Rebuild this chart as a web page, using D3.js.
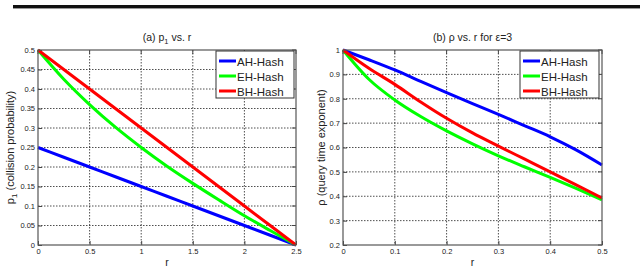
<!DOCTYPE html>
<html>
<head>
<meta charset="utf-8">
<script src="https://cdn.jsdelivr.net/npm/d3@7"></script>
<style>
  body { margin: 0; background: #fff; }
  svg { font-family: "Liberation Sans", Arial, sans-serif; }
</style>
</head>
<body>
<svg id="graph" width="640" height="268"></svg>
<script>
// ---- data ----
const seriesNames = ["AH-Hash", "EH-Hash", "BH-Hash"];
const seriesColors = ["#0000ff", "#00ff00", "#ff0000"];

// (a) p1 vs r
const rA = [0, 0.25, 0.5, 0.75, 1, 1.25, 1.5, 1.75, 2, 2.25, 2.5];
const p1AH = [0.25, 0.225, 0.2, 0.175, 0.15, 0.125, 0.1, 0.075, 0.05, 0.025, 0];
const p1EH = [0.5, 0.425, 0.36, 0.302, 0.25, 0.202, 0.158, 0.116, 0.075, 0.037, 0];
const p1BH = [0.5, 0.45, 0.4, 0.35, 0.3, 0.25, 0.2, 0.15, 0.1, 0.05, 0];
const xTicksA = [0, 0.5, 1, 1.5, 2, 2.5];
const yTicksA = [0, 0.05, 0.1, 0.15, 0.2, 0.25, 0.3, 0.35, 0.4, 0.45, 0.5];

// (b) rho vs r for eps=3
const rB = [0, 0.05, 0.1, 0.15, 0.2, 0.25, 0.3, 0.35, 0.4, 0.45, 0.5];
const rhoAH = [1, 0.96, 0.918, 0.871, 0.825, 0.78, 0.736, 0.69, 0.644, 0.59, 0.528];
const rhoEH = [1, 0.88, 0.795, 0.727, 0.668, 0.615, 0.566, 0.521, 0.477, 0.432, 0.385];
const rhoBH = [1, 0.925, 0.859, 0.787, 0.72, 0.66, 0.606, 0.553, 0.5, 0.447, 0.393];
const xTicksB = [0, 0.1, 0.2, 0.3, 0.4, 0.5];
const yTicksB = [0.2, 0.3, 0.4, 0.5, 0.6, 0.7, 0.8, 0.9, 1];

const svg = d3.select("#graph");

// top rule of the page the figure was cut from
svg.append("rect").attr("x", 13).attr("y", 5).attr("width", 627).attr("height", 3).attr("fill", "#111");
svg.append("rect").attr("x", 13).attr("y", 8).attr("width", 627).attr("height", 1).attr("fill", "#999");

/**
 * Draw one MATLAB style panel
 */
const drawPanel = (opt) => {
  const x = d3.scaleLinear().domain(opt.xDomain).range([opt.left, opt.right]);
  const y = d3.scaleLinear().domain(opt.yDomain).range([opt.bottom, opt.top]);
  const g = svg.append("g");

  // grid
  g.selectAll(".gx").data(opt.xTicks.slice(1, -1)).join("line")
    .attr("x1", d => x(d)).attr("x2", d => x(d))
    .attr("y1", opt.top).attr("y2", opt.bottom)
    .attr("stroke", "#222").attr("stroke-width", 0.8).attr("stroke-dasharray", "1.5,1.5");
  g.selectAll(".gy").data(opt.yTicks.slice(1, -1)).join("line")
    .attr("y1", d => y(d)).attr("y2", d => y(d))
    .attr("x1", opt.left).attr("x2", opt.right)
    .attr("stroke", "#222").attr("stroke-width", 0.8).attr("stroke-dasharray", "1.5,1.5");

  // axes with inward ticks
  const ax = g.append("g").attr("transform", `translate(0,${opt.bottom})`)
    .call(d3.axisBottom(x).tickValues(opt.xTicks).tickSize(-4).tickPadding(4).tickFormat(d3.format("")));
  const ay = g.append("g").attr("transform", `translate(${opt.left},0)`)
    .call(d3.axisLeft(y).tickValues(opt.yTicks).tickSize(-4).tickPadding(3).tickFormat(d3.format("")));
  [ax, ay].forEach(a => {
    a.select(".domain").remove();
    a.selectAll("line").attr("stroke", "#444");
    a.selectAll("text").attr("font-size", 7.5).attr("fill", "#222");
  });
  // top/right ticks
  g.selectAll(".tt").data(opt.xTicks).join("line")
    .attr("x1", d => x(d)).attr("x2", d => x(d)).attr("y1", opt.top).attr("y2", opt.top + 4)
    .attr("stroke", "#444");
  g.selectAll(".tr").data(opt.yTicks).join("line")
    .attr("y1", d => y(d)).attr("y2", d => y(d)).attr("x1", opt.right).attr("x2", opt.right - 4)
    .attr("stroke", "#444");

  // lines
  const line = d3.line().x(d => x(d[0])).y(d => y(d[1])).curve(d3.curveMonotoneX);
  opt.series.forEach((s, i) => {
    g.append("path")
      .datum(opt.xs.map((v, j) => [v, s[j]]))
      .attr("fill", "none")
      .attr("stroke", seriesColors[i])
      .attr("stroke-width", 3)
      .attr("d", line);
  });

  // box
  g.append("rect")
    .attr("x", opt.left).attr("y", opt.top)
    .attr("width", opt.right - opt.left).attr("height", opt.bottom - opt.top)
    .attr("fill", "none").attr("stroke", "#555").attr("stroke-width", 1.2);

  // legend
  const lg = g.append("g").attr("transform", `translate(${opt.legX},${opt.legY})`);
  lg.append("rect").attr("width", opt.legW).attr("height", 47)
    .attr("fill", "#fff").attr("stroke", "#333").attr("stroke-width", 1);
  seriesNames.forEach((n, i) => {
    const yy = 10 + i * 15;
    lg.append("line").attr("x1", 3).attr("x2", 20).attr("y1", yy).attr("y2", yy)
      .attr("stroke", seriesColors[i]).attr("stroke-width", 3);
    lg.append("text").attr("x", 21).attr("y", yy + 4.5)
      .attr("font-size", 11.5).attr("fill", "#222").text(n);
  });

  // titles
  const cx = (opt.left + opt.right) / 2;
  g.append("text").attr("x", cx).attr("y", 41).attr("text-anchor", "middle")
    .attr("font-size", 10.5).attr("fill", "#222").html(opt.title);
  g.append("text").attr("x", cx).attr("y", 266).attr("text-anchor", "middle")
    .attr("font-size", 10.5).attr("fill", "#222").text("r");
  g.append("text")
    .attr("transform", `translate(${opt.yLabX},${(opt.top + opt.bottom) / 2}) rotate(-90)`)
    .attr("text-anchor", "middle").attr("font-size", 11).attr("fill", "#222").html(opt.yLabel);
};

drawPanel({
  left: 38, right: 296, top: 50, bottom: 245,
  xDomain: [0, 2.5], yDomain: [0, 0.5],
  xTicks: xTicksA, yTicks: yTicksA,
  xs: rA, series: [p1AH, p1EH, p1BH],
  legX: 216, legY: 51, legW: 78,
  title: '(a) p<tspan font-size="7.5" dy="3">1</tspan><tspan dy="-3"> vs. r</tspan>',
  yLabX: 14,
  yLabel: 'p<tspan font-size="8" dy="3">1</tspan><tspan dy="-3"> (collision probability)</tspan>'
});

drawPanel({
  left: 343, right: 602, top: 50, bottom: 245,
  xDomain: [0, 0.5], yDomain: [0.2, 1],
  xTicks: xTicksB, yTicks: yTicksB,
  xs: rB, series: [rhoAH, rhoEH, rhoBH],
  legX: 520, legY: 51, legW: 79,
  title: "(b) ρ vs. r for ε=3",
  yLabX: 325,
  yLabel: "ρ (query time exponent)"
});
</script>
</body>
</html>
